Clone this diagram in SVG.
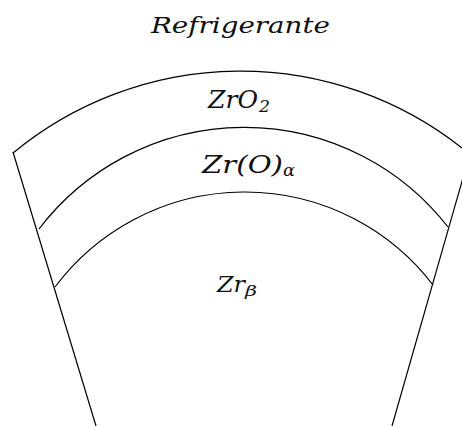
<svg xmlns="http://www.w3.org/2000/svg" width="462" height="426" viewBox="0 0 462 426">
<style>
.ln{fill:none;stroke:#000;stroke-width:1.2}
.t{font-family:"DejaVu Serif","Liberation Serif",serif;font-style:italic;fill:#111}
</style>
<rect width="462" height="426" fill="#fff"/>
<g id="walls">
<path class="ln" d="M13,152 L96,426"/>
<path class="ln" d="M471,150 L392,426"/>
</g>
<g id="layers">
<path class="ln" d="M13,153 A357,357 0 0 1 462,148"/>
<path class="ln" d="M39,229 A258,258 0 0 1 448,227"/>
<path class="ln" d="M55,287 A237,237 0 0 1 433,285"/>
</g>
<g id="labels">
<text class="t" x="151" y="33" font-size="23" textLength="179" lengthAdjust="spacingAndGlyphs">Refrigerante</text>
<text class="t" y="108" font-size="24"><tspan x="208" textLength="50" lengthAdjust="spacingAndGlyphs">ZrO</tspan><tspan x="259" y="112" font-size="16" textLength="11" lengthAdjust="spacingAndGlyphs">2</tspan></text>
<text class="t" y="173" font-size="24"><tspan x="202" textLength="81" lengthAdjust="spacingAndGlyphs">Zr(O)</tspan><tspan x="283" y="176" font-size="16" textLength="12" lengthAdjust="spacingAndGlyphs">α</tspan></text>
<text class="t" y="292" font-size="23"><tspan x="217" textLength="28" lengthAdjust="spacingAndGlyphs">Zr</tspan><tspan x="245" y="296" font-size="15" textLength="12" lengthAdjust="spacingAndGlyphs">β</tspan></text>
</g>
</svg>
